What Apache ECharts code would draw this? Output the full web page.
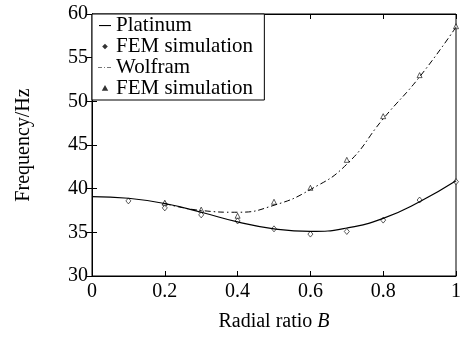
<!DOCTYPE html>
<html>
<head>
<meta charset="utf-8">
<script src="https://cdn.jsdelivr.net/npm/echarts@6/dist/echarts.min.js"></script>
<style>
  html, body { margin: 0; padding: 0; background: #fff; }
  #chart { width: 464px; height: 337px; }
</style>
</head>
<body>
<div id="chart"></div>
<script>
// values
const radial = [0, 0.1, 0.2, 0.3, 0.4, 0.5, 0.6, 0.7, 0.8, 0.9, 1.0];
const platinumLine = [39.1, 38.9, 38.3, 37.3, 36.2, 35.4, 35.1, 35.5, 36.6, 38.5, 40.9];
const wolframX = [0.2, 0.3, 0.4, 0.5, 0.6, 0.7, 0.8, 0.9, 1.0];
const wolframLine = [38.3, 37.5, 37.3, 38.1, 39.9, 42.8, 48.0, 52.8, 58.5];

const femPtX = [0.1, 0.2, 0.2, 0.3, 0.4, 0.5, 0.6, 0.7, 0.8, 0.9, 1.0];
const femPtY = [38.6, 38.2, 37.8, 37.0, 36.3, 35.4, 34.8, 35.1, 36.4, 38.7, 40.8];
const femWX = [0.2, 0.3, 0.4, 0.5, 0.6, 0.7, 0.8, 0.9, 1.0];
const femWY = [38.4, 37.6, 36.9, 38.5, 40.1, 43.3, 48.3, 53.0, 58.6];

const FONT = 'Liberation Serif';
const pair = (xs, ys) => xs.map((x, i) => [x, ys[i]]);

const TICK = { show: true, inside: true, length: 5, lineStyle: { color: '#000' } };
const LINE = { lineStyle: { color: '#000', width: 1 } };

// legend icons: invisible corner points keep the box at 14x8 so the mark keeps its own size
const BOX = 'M0,0M14,0M14,8M0,8';
const ICON_SOLID = 'path://' + BOX + 'M1,3.5L13,3.5L13,4.6L1,4.6Z';
const ICON_DASHDOT = 'path://' + BOX + 'M0,3.6L4,3.6L4,4.4L0,4.4Z M6,3.6L7,3.6L7,4.4L6,4.4Z M9,3.6L13,3.6L13,4.4L9,4.4Z';
const ICON_DIAMOND = 'path://' + BOX + 'M7,2.6L8.4,4L7,5.4L5.6,4Z';
const ICON_TRIANGLE = 'path://' + BOX + 'M7,2.6L8.5,5.2L5.5,5.2Z';

const chart = echarts.init(document.getElementById('chart'));
chart.setOption({
  animation: false,
  backgroundColor: '#fff',
  grid: { left: 92, right: 7, top: 14, bottom: 56, show: true, borderColor: '#000', borderWidth: 1 },
  legend: {
    left: 92, top: 14, orient: 'vertical',
    backgroundColor: '#fff',
    borderColor: '#000', borderWidth: 1,
    padding: [1, 6, 1, 5],
    itemGap: 0, itemWidth: 14, itemHeight: 8,
    textStyle: { fontFamily: FONT, fontSize: 21, color: '#000', padding: [0, 0, 0, -1] },
    data: [
      { name: 'Platinum', icon: ICON_SOLID },
      { name: 'FEM simulation', icon: ICON_DIAMOND },
      { name: 'Wolfram', icon: ICON_DASHDOT, itemStyle: { color: '#777' } },
      { name: 'FEM simulation ', icon: ICON_TRIANGLE }
    ]
  },
  xAxis: [
    {
      type: 'value', min: 0, max: 1, interval: 0.2,
      axisLine: LINE, axisTick: TICK, splitLine: { show: false },
      axisLabel: { color: '#000', fontFamily: FONT, fontSize: 20, margin: 6,
        formatter: v => (v === 0 || v === 1) ? String(v) : v.toFixed(1) },
      name: 'Radial ratio {i|B}', nameLocation: 'middle', nameGap: 36,
      nameTextStyle: { color: '#000', fontFamily: FONT, fontSize: 20,
        rich: { i: { fontStyle: 'italic', fontFamily: FONT, fontSize: 20, color: '#000' } } }
    },
    {
      type: 'value', position: 'top', min: 0, max: 1, interval: 0.2,
      axisLine: LINE, axisTick: TICK, axisLabel: { show: false }, splitLine: { show: false }
    }
  ],
  yAxis: [
    {
      type: 'value', min: 30, max: 60, interval: 5,
      axisLine: LINE, axisTick: TICK, splitLine: { show: false },
      axisLabel: { color: '#000', fontFamily: FONT, fontSize: 20, margin: 4 },
      name: 'Frequency/Hz', nameLocation: 'middle', nameGap: 58,
      nameTextStyle: { color: '#000', fontFamily: FONT, fontSize: 20 }
    },
    {
      type: 'value', position: 'right', min: 30, max: 60, interval: 5,
      axisLine: LINE, axisTick: TICK, axisLabel: { show: false }, splitLine: { show: false }
    }
  ],
  series: [
    {
      name: 'Platinum', type: 'line', smooth: true, symbol: 'none',
      data: pair(radial, platinumLine),
      lineStyle: { color: '#000', width: 1.2 }, itemStyle: { color: '#000' }
    },
    {
      name: 'FEM simulation', type: 'scatter', symbol: 'diamond', symbolSize: [5, 6],
      data: pair(femPtX, femPtY),
      itemStyle: { color: '#fff', borderColor: '#000', borderWidth: 0.8 }
    },
    {
      name: 'Wolfram', type: 'line', smooth: true, symbol: 'none',
      data: pair(wolframX, wolframLine),
      lineStyle: { color: '#000', width: 1, type: [6, 3, 1.5, 3] }, itemStyle: { color: '#000' }
    },
    {
      name: 'FEM simulation ', type: 'scatter', symbol: 'triangle', symbolSize: 5,
      data: pair(femWX, femWY),
      itemStyle: { color: '#fff', borderColor: '#000', borderWidth: 0.8 }
    }
  ]
});
</script>
</body>
</html>
